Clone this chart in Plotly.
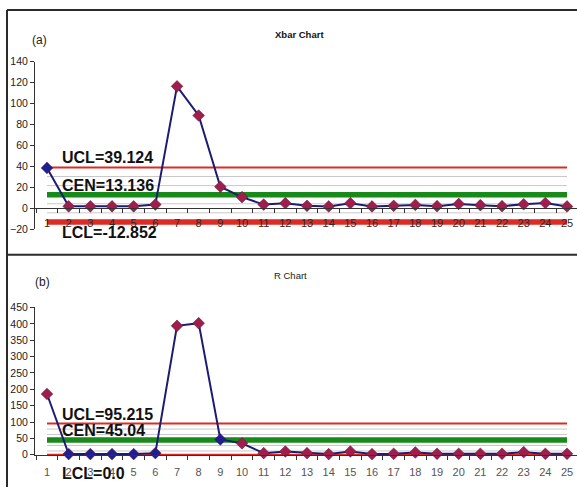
import plotly.graph_objects as go

# ---- data -------------------------------------------------------------
samples = list(range(1, 26))
sample_labels = [str(s) for s in samples]

xbar_values = [38.6, 2.0, 2.0, 2.0, 2.0, 3.7, 116.4, 88.6, 20.7, 10.8,
               3.7, 5.0, 2.5, 1.9, 5.0, 1.9, 2.5, 3.4, 2.2, 4.3,
               3.1, 2.2, 4.0, 5.2, 1.9]
range_values = [185.7, 2.0, 2.0, 2.0, 2.0, 5.0, 394.0, 402.0, 46.7, 34.8,
                5.0, 9.9, 5.0, 2.0, 10.0, 2.0, 3.0, 7.0, 3.0, 3.0,
                3.0, 3.0, 8.0, 3.0, 3.0]

xbar_ucl, xbar_cen, xbar_lcl = 39.124, 13.136, -12.852
r_ucl, r_cen, r_lcl = 95.215, 45.04, 0.0

# samples whose markers are drawn in blue instead of maroon
blue_points_xbar = [1]
blue_points_r = [2, 3, 4, 5, 6, 9]

# ---- styling ----------------------------------------------------------
W, H = 577, 493
FONT = "Arial, 'Liberation Sans', sans-serif"
LINE_NAVY = "#1c1c72"
MARK_RED = "#9e1f4e"
MARK_BLUE = "#1f1f90"
LIM_RED = "#dd2a25"
CEN_GREEN = "#178a1a"
SIGMA_GRAY = "#c9c9c9"
AXIS = "#333333"

X_RANGE = [0.446, 25.46]
X_DOMAIN = [35 / W, 1.0]


def px_frac(py):
    """Convert a pixel row (from the top) to a paper fraction."""
    return (H - py) / H


fig = go.Figure()


def add_panel(xa, ya, values, ucl, cen, lcl, blue_points, lcl_width,
              lcl_shift):
    sigma = (ucl - cen) / 3.0
    x_ends = [samples[0], samples[-1]]
    # sigma zone lines
    for k in (2, 1, -1, -2):
        lvl = cen + k * sigma
        fig.add_trace(go.Scatter(x=x_ends, y=[lvl, lvl], mode="lines",
                                 line=dict(color=SIGMA_GRAY, width=1),
                                 xaxis=xa, yaxis=ya, hoverinfo="skip"))
    fig.add_trace(go.Scatter(x=x_ends, y=[ucl, ucl], mode="lines",
                             line=dict(color=LIM_RED, width=2),
                             xaxis=xa, yaxis=ya))
    fig.add_trace(go.Scatter(x=x_ends, y=[cen, cen], mode="lines",
                             line=dict(color=CEN_GREEN, width=5.5),
                             xaxis=xa, yaxis=ya))
    fig.add_trace(go.Scatter(x=x_ends, y=[lcl, lcl], mode="lines",
                             line=dict(color=LIM_RED, width=lcl_width),
                             xaxis=xa, yaxis=ya))
    colors = [MARK_BLUE if s in blue_points else MARK_RED for s in samples]
    fig.add_trace(go.Scatter(x=samples, y=values, mode="lines+markers",
                             line=dict(color=LINE_NAVY, width=2),
                             marker=dict(symbol="diamond", size=9, color=colors,
                                         line=dict(color="#5a1030", width=0.5)),
                             cliponaxis=False, xaxis=xa, yaxis=ya))
    # control-limit captions
    lbl_font = dict(family=FONT, size=16, color="#111111")
    for txt, yv, anchor, shift in (
            (f"UCL={ucl}", ucl, "bottom", -1),
            (f"CEN={cen}", cen, "bottom", -1),
            (f"LCL={lcl}", lcl, "top", lcl_shift)):
        fig.add_annotation(x=1.6, y=yv, xref=xa, yref=ya, text=f"<b>{txt}</b>",
                           showarrow=False, xanchor="left", yanchor=anchor,
                           yshift=shift, font=lbl_font)


add_panel("x", "y", xbar_values, xbar_ucl, xbar_cen, xbar_lcl,
          blue_points_xbar, 5.5, 0)
add_panel("x2", "y2", range_values, r_ucl, r_cen, r_lcl,
          blue_points_r, 2, -8)

# panel geometry: y-axis extents in pixel rows
ya_dom = [px_frac(229), px_frac(57)]
ya_rng = [-20, 140]
yb_dom = [px_frac(461.3), px_frac(309)]
yb_rng = [-4, 450]


def zero_position(dom, rng):
    return dom[0] + (0 - rng[0]) / (rng[1] - rng[0]) * (dom[1] - dom[0])


def x_axis(pos, label_color, standoff):
    return dict(domain=X_DOMAIN, range=X_RANGE, anchor="free", position=pos,
                showline=True, linecolor=AXIS, linewidth=1,
                tickvals=samples, ticktext=sample_labels,
                ticks="outside", ticklen=4, tickcolor="rgba(0,0,0,0)",
                ticklabelstandoff=standoff,
                minor=dict(ticks="outside", tick0=0.5, dtick=1, ticklen=4,
                           tickcolor=AXIS, showgrid=False),
                showgrid=False, zeroline=False,
                tickfont=dict(family=FONT, size=11, color=label_color))


def y_axis(dom, rng, dtick, anchor):
    return dict(domain=dom, range=rng, anchor=anchor, tick0=0, dtick=dtick,
                showline=True, linecolor=AXIS, linewidth=1,
                ticks="outside", ticklen=4, tickcolor=AXIS,
                showgrid=False, zeroline=False,
                tickfont=dict(family=FONT, size=10.5, color="#222222"))


fig.update_layout(
    width=W, height=H, autosize=False,
    margin=dict(l=0, r=0, t=0, b=0),
    paper_bgcolor="white", plot_bgcolor="white",
    showlegend=False,
    xaxis=x_axis(zero_position(ya_dom, ya_rng), "#2a2a2a", 0),
    yaxis=y_axis(ya_dom, ya_rng, 20, "x"),
    xaxis2=x_axis(zero_position(yb_dom, yb_rng), "#555555", 3),
    yaxis2=y_axis(yb_dom, yb_rng, 50, "x2"),
)

# panel frames
frame = dict(color="#2b2b2b", width=2)
fig.add_shape(type="line", xref="paper", yref="paper",
              x0=7 / W, x1=1, y0=px_frac(4), y1=px_frac(4), line=frame)
fig.add_shape(type="line", xref="paper", yref="paper",
              x0=7 / W, x1=1, y0=px_frac(255), y1=px_frac(255), line=frame)
fig.add_shape(type="line", xref="paper", yref="paper",
              x0=7 / W, x1=7 / W, y0=px_frac(4), y1=0, line=frame)

# panel titles
fig.add_annotation(x=30 / W, y=px_frac(26), xref="paper", yref="paper",
                   text="(a)", showarrow=False,
                   font=dict(family=FONT, size=12, color="#222222"))
fig.add_annotation(x=299 / W, y=px_frac(22), xref="paper", yref="paper",
                   text="<b>Xbar Chart</b>", showarrow=False,
                   font=dict(family=FONT, size=9.5, color="#111111"))
fig.add_annotation(x=33 / W, y=px_frac(283), xref="paper", yref="paper",
                   text="(b)", showarrow=False,
                   font=dict(family=FONT, size=12, color="#222222"))
fig.add_annotation(x=290 / W, y=px_frac(276), xref="paper", yref="paper",
                   text="R Chart", showarrow=False,
                   font=dict(family=FONT, size=9.5, color="#222222"))

fig.write_html("out.html")
